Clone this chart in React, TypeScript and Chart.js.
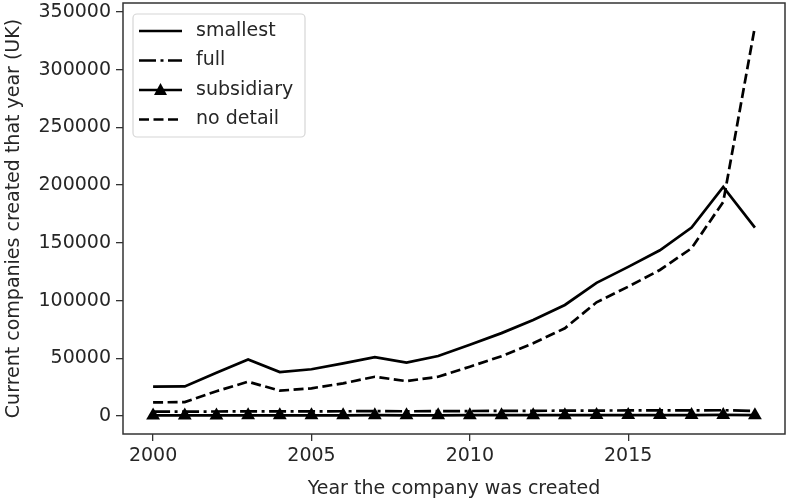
import { useEffect, useRef } from "react"
import { Chart, registerables } from "chart.js"

Chart.register(...registerables)

const years = [2000, 2001, 2002, 2003, 2004, 2005, 2006, 2007, 2008, 2009, 2010, 2011, 2012, 2013, 2014, 2015, 2016, 2017, 2018, 2019]
const smallest = [25400, 25600, 37500, 49000, 38100, 40500, 45600, 51000, 46200, 52000, 61800, 71800, 83200, 96200, 115300, 129200, 143600, 163300, 198500, 163200]
const full = [3800, 3800, 3900, 4000, 4000, 4000, 4100, 4200, 4100, 4200, 4300, 4400, 4500, 4600, 4700, 4800, 4800, 4900, 5000, 4400]
const subsidiary = [500, 500, 500, 600, 600, 600, 600, 700, 600, 600, 700, 700, 700, 700, 800, 800, 800, 800, 900, 700]
const noDetail = [11800, 12000, 21500, 29700, 21900, 24000, 28300, 34000, 30200, 34000, 42700, 51800, 63000, 76000, 98500, 112000, 126500, 145300, 185500, 337300]
const xTicks = [2000, 2005, 2010, 2015]
const yTicks = [0, 50000, 100000, 150000, 200000, 250000, 300000, 350000]

const seriesNames = ["smallest", "full", "subsidiary", "no detail"]
const LW = 2.7
const dashes: number[][] = [[], [17, 4.5, 3, 4.5], [], [10, 4.5]]

const TEXT = "#262626"
const FONT = "DejaVu Sans"

const toPoints = (vals: number[]) => years.map((y, i) => ({ x: y, y: vals[i] }))

const framePlugin = {
  id: "frame",
  afterDatasetsDraw(chart: any) {
    const { ctx, chartArea: a } = chart
    ctx.save()
    ctx.strokeStyle = "#333"
    ctx.lineWidth = 1.5
    ctx.strokeRect(a.left, a.top, a.right - a.left, a.bottom - a.top)
    ctx.restore()
  },
}

const legendPlugin = {
  id: "boxLegend",
  afterDraw(chart: any) {
    const { ctx, chartArea: a } = chart
    const x0 = a.left + 10
    const y0 = a.top + 11
    const w = 172
    const h = 123
    ctx.save()
    ctx.beginPath()
    ctx.roundRect(x0, y0, w, h, 4)
    ctx.fillStyle = "rgba(255,255,255,0.8)"
    ctx.fill()
    ctx.strokeStyle = "#d6d6d6"
    ctx.lineWidth = 1.2
    ctx.stroke()
    ctx.font = `19px "${FONT}"`
    ctx.textBaseline = "middle"
    seriesNames.forEach((name, i) => {
      const cy = y0 + 17 + i * 29.5
      ctx.beginPath()
      ctx.setLineDash(dashes[i])
      ctx.strokeStyle = "#000"
      ctx.lineWidth = LW
      ctx.moveTo(x0 + 6, cy)
      ctx.lineTo(x0 + 49, cy)
      ctx.stroke()
      ctx.setLineDash([])
      if (i === 2) {
        const cx = x0 + 27.5
        ctx.beginPath()
        ctx.moveTo(cx, cy - 7)
        ctx.lineTo(cx + 6.5, cy + 5)
        ctx.lineTo(cx - 6.5, cy + 5)
        ctx.closePath()
        ctx.fillStyle = "#000"
        ctx.fill()
      }
      ctx.fillStyle = TEXT
      ctx.fillText(name, x0 + 63, cy)
    })
    ctx.restore()
  },
}

export default function App() {
  const ref = useRef<HTMLCanvasElement>(null)

  useEffect(() => {
    if (!ref.current) return
    document.body.style.margin = "0"

    const vals = [smallest, full, subsidiary, noDetail]
    const chart = new Chart(ref.current, {
      type: "line",
      data: {
        datasets: vals.map((v, i) => ({
          label: seriesNames[i],
          data: toPoints(v),
          borderColor: "#000",
          backgroundColor: "#000",
          borderWidth: LW,
          borderDash: dashes[i],
          pointRadius: i === 2 ? 8 : 0,
          pointStyle: "triangle",
          pointBorderWidth: 0,
          tension: 0,
          fill: false,
        })),
      },
      options: {
        animation: false,
        responsive: false,
        devicePixelRatio: 1,
        layout: { autoPadding: false, padding: { top: 3, right: 5, left: 0, bottom: 0 } },
        plugins: {
          legend: { display: false },
          tooltip: { enabled: false },
        },
        scales: {
          x: {
            type: "linear",
            min: 1999.05,
            max: 2019.95,
            afterBuildTicks: (s: any) => { s.ticks = xTicks.map((v) => ({ value: v })) },
            afterFit: (s: any) => { s.height = 68 },
            grid: { drawOnChartArea: false, tickLength: 7, color: "#333", lineWidth: 1.3 },
            border: { display: false },
            ticks: {
              color: TEXT,
              font: { family: FONT, size: 19 },
              padding: 4,
              maxRotation: 0,
              callback: (v: any) => String(v),
            },
            title: {
              display: true,
              text: "Year the company was created",
              color: TEXT,
              font: { family: FONT, size: 19 },
              padding: { top: 0, bottom: 2 },
            },
          },
          y: {
            type: "linear",
            min: -15600,
            max: 357800,
            afterBuildTicks: (s: any) => { s.ticks = yTicks.map((v) => ({ value: v })) },
            afterFit: (s: any) => { s.width = 123; s.paddingTop = 0; s.paddingBottom = 0 },
            grid: { drawOnChartArea: false, tickLength: 7, color: "#333", lineWidth: 1.3 },
            border: { display: false },
            ticks: {
              color: TEXT,
              font: { family: FONT, size: 19, lineHeight: 0.2 },
              padding: 5,
              callback: (v: any) => String(v),
            },
            title: {
              display: true,
              text: "Current companies created that year (UK)",
              color: TEXT,
              font: { family: FONT, size: 19 },
              padding: { top: 3, bottom: 0 },
            },
          },
        },
      },
      plugins: [framePlugin, legendPlugin],
    })

    return () => { chart.destroy() }
  }, [])

  return (
    <div style={{ width: 790, height: 502, background: "#fff" }}>
      <canvas ref={ref} width={790} height={502} />
    </div>
  )
}
